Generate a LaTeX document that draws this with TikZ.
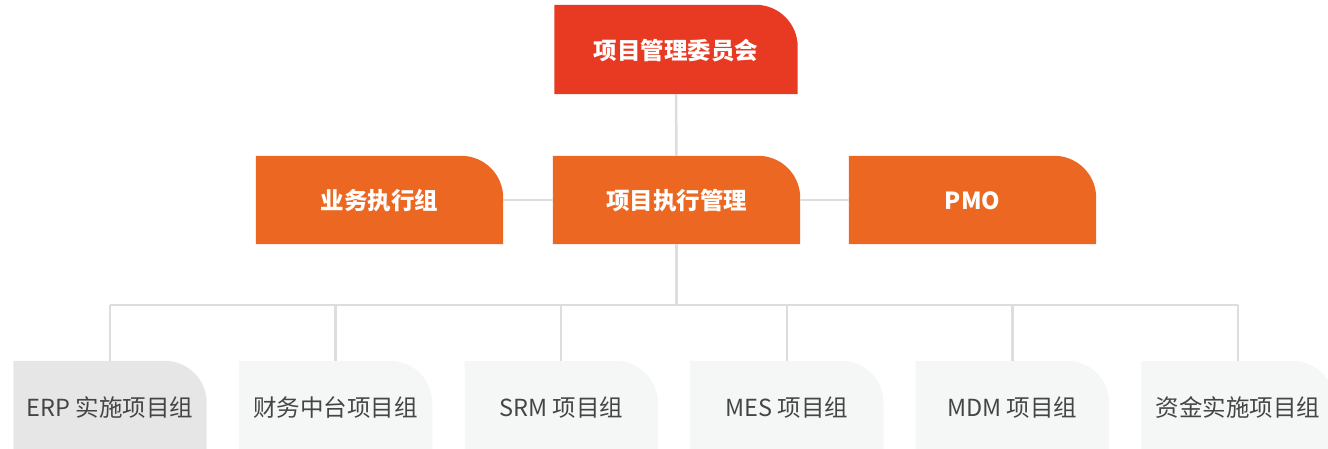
\documentclass[tikz,border=0pt]{standalone}
\usepackage{fontspec}
\setmainfont{Noto Sans CJK SC}
\usetikzlibrary{backgrounds}
\definecolor{topred}{HTML}{E83A22}
\definecolor{midorange}{HTML}{EC6822}
\definecolor{lgray}{HTML}{DDDDDD}
\definecolor{boxgray}{HTML}{E6E6E6}
\definecolor{boxlight}{HTML}{F5F7F7}
\definecolor{txtgray}{HTML}{454545}
\newcommand{\dn}[2]{\raisebox{-#1pt}[\height][\depth]{#2}}
\tikzset{
  headbox/.style={minimum width=243pt, minimum height=89pt, inner sep=0pt, text=white, font=\fontsize{23.5}{28}\selectfont\bfseries},
  midbox/.style={minimum width=247pt, minimum height=88pt, inner sep=0pt, text=white, font=\fontsize{23.5}{28}\selectfont\bfseries},
  subbox/.style={minimum width=193pt, minimum height=88pt, inner sep=0pt, text=txtgray, font=\fontsize{23.5}{28}\selectfont},
  conn/.style={draw=lgray, line width=2.5pt},
}
\newcommand{\tabshape}[2]{%
  \fill[#2] (#1.south west) -- (#1.north west) [rounded corners=42pt] -- (#1.north east) [sharp corners] -- (#1.south east) -- cycle;}
\begin{document}
\begin{tikzpicture}[x=1pt,y=-1pt]
\useasboundingbox (0,0) rectangle (1328,449);
\clip (0,0) rectangle (1328,449);
\node[headbox] (top) at (676,49.5) {\dn{1.5}{项目管理委员会}};
\node[midbox] (biz) at (379.5,200) {\dn{1}{业务执行组}};
\node[midbox] (mid) at (676.5,200) {\dn{1}{项目执行管理}};
\node[midbox] (pmo) at (972.5,200) {\dn{1}{PMO}};
\foreach \i/\t in {1/ERP 实施项目组,2/财务中台项目组,3/SRM 项目组,4/MES 项目组,5/MDM 项目组,6/资金实施项目组}{
  \node[subbox] (b\i) at ({110+225.6*(\i-1)},405) {\dn{2.5}{\t}};
}
\coordinate (j) at (676.5,305);
\begin{scope}[on background layer]
  \tabshape{top}{topred}
  \tabshape{biz}{midorange}
  \tabshape{mid}{midorange}
  \tabshape{pmo}{midorange}
  \tabshape{b1}{boxgray}
  \foreach \i in {2,...,6}{\tabshape{b\i}{boxlight}}
  \draw[conn] (top.south) -- (mid.north);
  \draw[conn] (biz.east) -- (mid.west);
  \draw[conn] (mid.east) -- (pmo.west);
  \draw[conn] (mid.south) -- (j);
  \draw[conn] (b1.north |- j) -- (b6.north |- j);
  \foreach \i in {1,...,6}{\draw[conn] (b\i.north |- j) -- (b\i.north);}
\end{scope}
\end{tikzpicture}
\end{document}
